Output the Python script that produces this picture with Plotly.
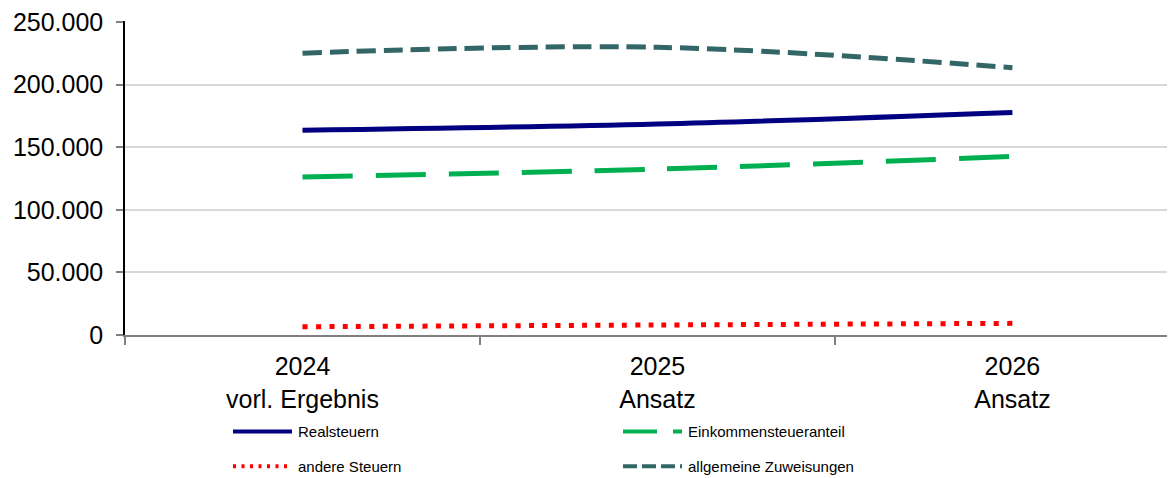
import plotly.graph_objects as go

categories = ["2024<br>vorl. Ergebnis", "2025<br>Ansatz", "2026<br>Ansatz"]
realsteuern = [163500, 168500, 177800]
einkommensteueranteil = [126200, 132500, 142600]
andere_steuern = [6600, 8000, 9300]
allgemeine_zuweisungen = [225100, 229800, 213500]

series = [
    ("Realsteuern", realsteuern, "#000080", "solid", "solid"),
    ("Einkommensteueranteil", einkommensteueranteil, "#00B050", "50px,23px", "34px,16px"),
    ("andere Steuern", andere_steuern, "#FF0000", "5px,8.3px", "3px,5.5px"),
    ("allgemeine Zuweisungen", allgemeine_zuweisungen, "#336666", "19px,8px", "14px,5px"),
]

FONT = "Liberation Sans, Arial, sans-serif"
fig = go.Figure()
for name, vals, color, dash, _ in series:
    fig.add_trace(go.Scatter(
        x=categories, y=vals, name=name, mode="lines",
        line=dict(color=color, width=5, dash=dash, shape="spline", smoothing=1),
        showlegend=False,
    ))

# page has an 8px body margin; compensate so the plot lands where the reference has it
OFF = 8
L, T, W, H = 125, 19, 1050, 316  # plot area in screenshot pixels
FIG_W, FIG_H = 1175 - OFF, 478 - OFF

def px_x(p):
    return (p - L) / W

def px_y(p):
    return (T + H - p) / H

legend_pos = [(233, 432), (623, 432), (233, 467), (623, 467)]
for (name, vals, color, dash, ldash), (lx, ly) in zip(series, legend_pos):
    fig.add_shape(type="line", xref="paper", yref="paper",
                  x0=px_x(lx), x1=px_x(lx + 59), y0=px_y(ly), y1=px_y(ly),
                  line=dict(color=color, width=4, dash=ldash))
    fig.add_annotation(xref="paper", yref="paper", x=px_x(lx + 63), y=px_y(ly),
                       text=name, showarrow=False, xanchor="left", yanchor="middle",
                       font=dict(family=FONT, size=15, color="#000000"))

fig.update_layout(
    width=FIG_W, height=FIG_H,
    margin=dict(l=L - OFF, r=0, t=T - OFF, b=FIG_H - (T - OFF) - H, pad=0),
    paper_bgcolor="white", plot_bgcolor="white",
    separators=",.",
    font=dict(family=FONT, size=25, color="#000000"),
)
fig.update_xaxes(
    type="category", range=[-0.5, 2.458],
    tickson="boundaries", ticks="outside", ticklen=8, tickcolor="#808080", tickwidth=1.5,
    showline=True, linecolor="#808080", linewidth=2, showgrid=False,
    ticklabelstandoff=8,
    tickfont=dict(family=FONT, size=25, color="#000000"),
)
fig.update_yaxes(
    range=[0, 250800], tickvals=[0, 50000, 100000, 150000, 200000, 250000], tickformat=",d",
    ticks="outside", ticklen=7, tickcolor="#808080", tickwidth=1.5,
    showline=True, linecolor="#000000", linewidth=1.5,
    showgrid=True, gridcolor="#D9D9D9", gridwidth=2, zeroline=False,
    ticklabelstandoff=8, ticklabeloverflow="allow",
    tickfont=dict(family=FONT, size=25, color="#000000"),
)

fig.write_html("out.html")
